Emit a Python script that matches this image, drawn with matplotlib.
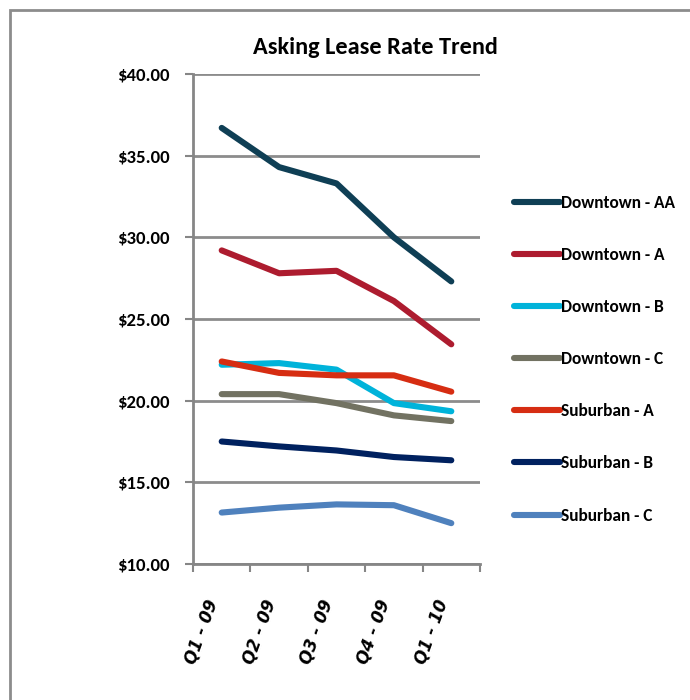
import numpy as np
import matplotlib.pyplot as plt
from matplotlib.patches import Rectangle

quarters = ['Q1 - 09', 'Q2 - 09', 'Q3 - 09', 'Q4 - 09', 'Q1 - 10']
series_names = ['Downtown - AA', 'Downtown - A', 'Downtown - B', 'Downtown - C',
                'Suburban - A', 'Suburban - B', 'Suburban - C']
downtown_aa = [36.7, 34.3, 33.3, 30.0, 27.3]
downtown_a = [29.2, 27.8, 27.95, 26.1, 23.45]
downtown_b = [22.2, 22.3, 21.9, 19.85, 19.35]
downtown_c = [20.4, 20.4, 19.85, 19.1, 18.75]
suburban_a = [22.4, 21.7, 21.55, 21.55, 20.55]
suburban_b = [17.5, 17.2, 16.95, 16.55, 16.35]
suburban_c = [13.15, 13.45, 13.65, 13.6, 12.5]
colors = ['#0F3F55', '#AD1C2F', '#00B3DA', '#727262', '#D62D12', '#00215F', '#4F81BD']

all_series = [downtown_aa, downtown_a, downtown_b, downtown_c,
              suburban_a, suburban_b, suburban_c]

plt.rcParams['font.family'] = ['Carlito', 'Roboto Condensed', 'Liberation Sans Narrow',
                               'DejaVu Sans']

fig = plt.figure(figsize=(6.9, 7.0), dpi=100)
ax = fig.add_axes([193/690, 1-564/700, 287/690, 490/700])

x = np.arange(len(quarters))
for vals, name, col in zip(all_series, series_names, colors):
    ax.plot(x, vals, color=col, lw=4.4, solid_capstyle='round',
            solid_joinstyle='round', label=name)

ax.set_xlim(-0.5, len(quarters) - 0.5)
ax.set_ylim(10, 40)
ax.set_yticks(np.arange(10, 41, 5))
ax.set_yticklabels(['$%.2f' % v for v in np.arange(10, 41, 5)],
                   fontsize=13.5, fontweight='bold')
ax.yaxis.grid(True, color='#8C8C8C', lw=2)
ax.set_axisbelow(True)

ax.set_xticks(np.arange(-0.5, len(quarters), 1.0))
ax.set_xticklabels([])
ax.set_xticks(x, minor=True)
ax.set_xticklabels(quarters, minor=True, rotation=70, ha='right',
                   fontsize=12, fontweight='bold', style='italic',
                   family='DejaVu Sans')
ax.tick_params(axis='x', which='minor', length=0, pad=24)
ax.tick_params(axis='x', which='major', length=6, width=1.5, color='#868686')
ax.tick_params(axis='y', length=6, width=1.5, color='#868686', pad=11)

for s in ['top', 'right']:
    ax.spines[s].set_visible(False)
for s in ['left', 'bottom']:
    ax.spines[s].set_color('#868686')
    ax.spines[s].set_linewidth(2)

fig.text(375/690, 1-48/700, 'Asking Lease Rate Trend', ha='center', va='center',
         fontsize=17.5, fontweight='bold')

fig.legend(loc='upper left', bbox_to_anchor=(507/690, 1-188/700), frameon=False,
           prop={'size': 12.5, 'weight': 'bold'}, handlelength=2.65,
           handletextpad=0.05, labelspacing=2.08, borderaxespad=0)

fig.patches.append(Rectangle((10/690, -0.1), 1.0, 1.1 - 10/700,
                             transform=fig.transFigure, fill=False,
                             edgecolor='#8C8C8C', lw=2))

fig.savefig('out.png', dpi=100)
